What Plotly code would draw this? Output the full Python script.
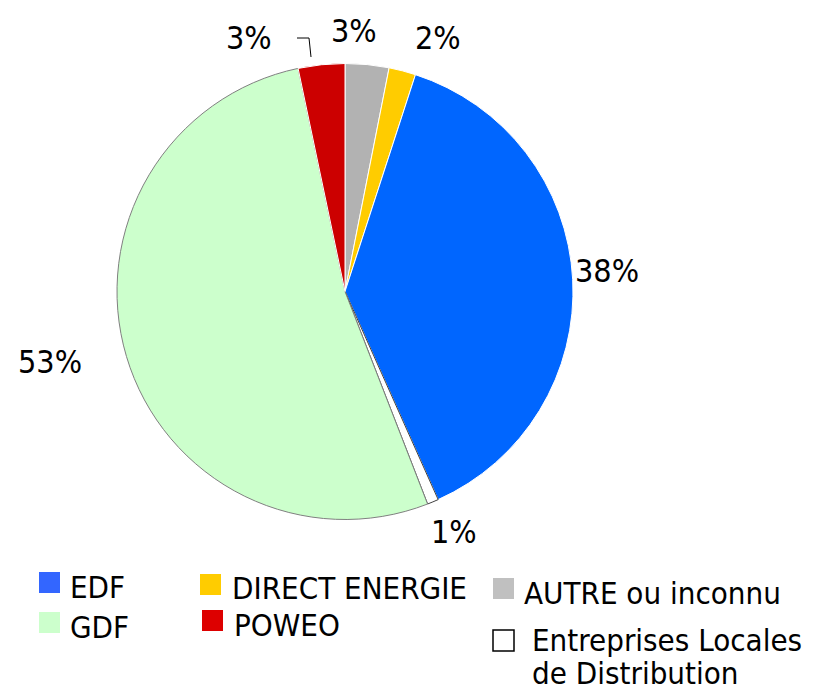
import plotly.graph_objects as go

# ---- data ----
labels = ["AUTRE ou inconnu", "DIRECT ENERGIE", "EDF", "Entreprises Locales de Distribution", "GDF", "POWEO"]
values = [3.1, 1.9, 38.3, 0.8, 52.6, 3.3]
colors = ["#B2B2B2", "#FFCC00", "#0066FF", "#FFFFFF", "#CCFFCC", "#CC0000"]
line_colors = ["#FFFFFF", "#FFFFFF", "#FFFFFF", "#404040", "#808080", "#FFFFFF"]

legend_names = ["EDF", "GDF", "DIRECT ENERGIE", "POWEO", "AUTRE ou inconnu",
                ["Entreprises Locales", "de Distribution"]]
legend_colors = ["#3366FF", "#CCFFCC", "#FFCC00", "#DD0000", "#C0C0C0", None]

FONT = "DejaVu Sans Condensed, Tahoma, sans-serif"
W, H = 818, 691


def px(x):
    return x / W


def py(y):
    return 1 - y / H


fig = go.Figure(go.Pie(
    labels=labels, values=values, sort=False, direction="clockwise", rotation=0,
    marker=dict(colors=colors, line=dict(color=line_colors, width=1)),
    textinfo="none", showlegend=False, hoverinfo="label+percent",
    domain=dict(x=[px(345 - 228), px(345 + 228)], y=[py(521), py(62)]),
))

# percentage labels (text from the data), placed where the reference shows them
total = sum(values)
label_pos = [(354, 31), (438, 38), (607, 271), (454, 532), (50, 362), (249, 38)]
annotations = []
for v, (x, y) in zip(values, label_pos):
    annotations.append(dict(
        text=f"{round(100 * v / total)}%", xref="paper", yref="paper",
        x=px(x), y=py(y), xanchor="center", yanchor="middle", showarrow=False,
        font=dict(family=FONT, size=32, color="black"),
    ))

shapes = []
# leader line for POWEO label
shapes.append(dict(type="path", xref="paper", yref="paper",
                   path=f"M {px(297)},{py(38)} L {px(309)},{py(38)} L {px(311)},{py(57)}",
                   line=dict(color="black", width=1)))

# custom legend in three columns
legend_layout = [  # (square x, square y, text x, text center y)
    (39, 572, 68, 587),
    (39, 612, 68, 627),
    (200, 574, 230, 588),
    (202, 610, 232, 625),
    (493, 578, 522, 593),
    (493, 630, 530, 640),
]
for name, col, (sx, sy, tx, ty) in zip(legend_names, legend_colors, legend_layout):
    size = 21
    hollow = col is None
    shapes.append(dict(
        type="rect", xref="paper", yref="paper",
        x0=px(sx), x1=px(sx + size), y0=py(sy + size), y1=py(sy),
        fillcolor="white" if hollow else col,
        line=dict(color="black" if hollow else col, width=1.5 if hollow else 0),
    ))
    lines = name if isinstance(name, list) else [name]
    for i, ln in enumerate(lines):
        annotations.append(dict(
            text=ln, xref="paper", yref="paper", x=px(tx), y=py(ty + 33 * i),
            xanchor="left", yanchor="middle", showarrow=False, align="left",
            font=dict(family=FONT, size=31, color="black"),
        ))

fig.update_layout(
    width=W, height=H, margin=dict(l=0, r=0, t=0, b=0),
    paper_bgcolor="white", plot_bgcolor="white",
    shapes=shapes, annotations=annotations,
)
fig.write_html("out.html", config={"displayModeBar": False},
               post_script="document.body.style.margin='0';")
